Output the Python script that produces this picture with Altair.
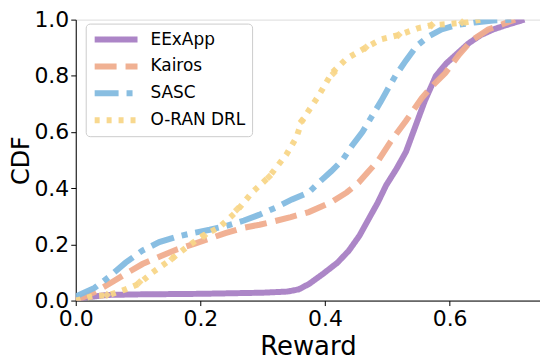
import altair as alt
import pandas as pd

series_names = ["EExApp", "Kairos", "SASC", "O-RAN DRL"]
colors = ["#a87fc4", "#f0ad8e", "#83bbe0", "#f8d688"]
dashes = [[1, 0], [22, 9], [24, 8, 6, 8], [5, 7]]

eexapp_x = [0.0, 0.02, 0.05, 0.1, 0.2, 0.3, 0.34, 0.358, 0.375, 0.398, 0.42, 0.438, 0.455, 0.47, 0.485, 0.498, 0.515, 0.53, 0.545, 0.56, 0.578, 0.595, 0.61, 0.63, 0.65, 0.67, 0.69, 0.705, 0.72]
eexapp_y = [0.0, 0.012, 0.02, 0.022, 0.024, 0.028, 0.032, 0.04, 0.06, 0.097, 0.135, 0.177, 0.23, 0.29, 0.35, 0.41, 0.47, 0.53, 0.62, 0.71, 0.8, 0.845, 0.875, 0.915, 0.945, 0.965, 0.98, 0.99, 1.0]

kairos_x = [0.0, 0.03, 0.054, 0.08, 0.107, 0.135, 0.16, 0.19, 0.214, 0.24, 0.267, 0.295, 0.32, 0.345, 0.374, 0.41, 0.435, 0.454, 0.47, 0.486, 0.505, 0.53, 0.555, 0.575, 0.593, 0.615, 0.635, 0.662, 0.69, 0.705]
kairos_y = [0.0, 0.03, 0.06, 0.095, 0.13, 0.157, 0.18, 0.202, 0.22, 0.24, 0.258, 0.27, 0.283, 0.297, 0.315, 0.35, 0.385, 0.42, 0.46, 0.5, 0.565, 0.64, 0.72, 0.77, 0.81, 0.875, 0.925, 0.965, 0.988, 1.0]

sasc_x = [0.0, 0.03, 0.054, 0.08, 0.107, 0.134, 0.16, 0.187, 0.215, 0.24, 0.27, 0.294, 0.32, 0.347, 0.374, 0.39, 0.41, 0.428, 0.443, 0.46, 0.475, 0.49, 0.5, 0.513, 0.53, 0.547, 0.566, 0.587, 0.61, 0.64, 0.67, 0.7]
sasc_y = [0.015, 0.045, 0.085, 0.135, 0.178, 0.208, 0.226, 0.24, 0.252, 0.265, 0.285, 0.305, 0.33, 0.36, 0.385, 0.42, 0.46, 0.5, 0.55, 0.6, 0.655, 0.71, 0.75, 0.8, 0.855, 0.906, 0.94, 0.965, 0.98, 0.99, 0.997, 1.0]

oran_x = [0.0, 0.027, 0.054, 0.08, 0.102, 0.123, 0.155, 0.178, 0.203, 0.23, 0.257, 0.283, 0.31, 0.338, 0.354, 0.363, 0.39, 0.411, 0.434, 0.465, 0.49, 0.518, 0.55, 0.571, 0.6, 0.625, 0.65]
oran_y = [0.0, 0.015, 0.02, 0.04, 0.06, 0.1, 0.15, 0.19, 0.23, 0.26, 0.315, 0.385, 0.44, 0.52, 0.58, 0.64, 0.73, 0.81, 0.86, 0.9, 0.93, 0.945, 0.97, 0.98, 0.985, 0.99, 1.0]

oran_marker_x = [0.05, 0.102, 0.155, 0.206, 0.259, 0.31, 0.363, 0.414, 0.465, 0.518, 0.571, 0.62]
oran_marker_y = [0.02, 0.065, 0.15, 0.23, 0.325, 0.44, 0.64, 0.81, 0.9, 0.945, 0.98, 0.99]

xs = [eexapp_x, kairos_x, sasc_x, oran_x]
ys = [eexapp_y, kairos_y, sasc_y, oran_y]

rows = []
for name, sx, sy in zip(series_names, xs, ys):
    for i, (a, b) in enumerate(zip(sx, sy)):
        rows.append({"series": name, "x": a, "y": b, "order": i})
df = pd.DataFrame(rows)

mk = pd.DataFrame({"x": oran_marker_x, "y": oran_marker_y, "series": "O-RAN DRL"})

xscale = alt.Scale(domain=[0, 0.745], nice=False, zero=False)
yscale = alt.Scale(domain=[0, 1], nice=False)

xaxis = alt.Axis(values=[0, 0.2, 0.4, 0.6], format=".1f", title="Reward",
                 labelFontSize=22, titleFontSize=26, titleFontWeight="normal",
                 labelFont="DejaVu Sans", titleFont="DejaVu Sans", labelColor="black",
                 titleColor="black", tickColor="black", domainColor="black",
                 tickSize=5, labelPadding=3, titlePadding=4, grid=False, labelFlush=False)
yaxis = alt.Axis(values=[0, 0.2, 0.4, 0.6, 0.8, 1.0], format=".1f", title="CDF",
                 labelFontSize=22, titleFontSize=24, titleFontWeight="normal",
                 labelFont="DejaVu Sans", titleFont="DejaVu Sans", labelColor="black",
                 titleColor="black", tickColor="black", domainColor="black",
                 tickSize=5, labelPadding=2, titlePadding=0, grid=False, labelFlush=False)

lines = alt.Chart(df).mark_line(strokeWidth=6, opacity=0.95, strokeCap="butt", clip=True).encode(
    x=alt.X("x:Q", scale=xscale, axis=xaxis),
    y=alt.Y("y:Q", scale=yscale, axis=yaxis),
    color=alt.Color("series:N", scale=alt.Scale(domain=series_names, range=colors),
                    legend=alt.Legend(title=None, orient="none", legendX=10, legendY=4,
                                      labelFontSize=17, labelFont="DejaVu Sans", labelColor="black",
                                      symbolType="stroke", symbolStrokeWidth=6, symbolSize=1849,
                                      clipHeight=20, rowPadding=7, padding=6, labelOffset=10,
                                      strokeColor="#cccccc", fillColor="white", cornerRadius=4)),
    strokeDash=alt.StrokeDash("series:N", scale=alt.Scale(domain=series_names, range=dashes), legend=None),
    order="order:Q",
)

markers = alt.Chart(mk).mark_point(shape="diamond", filled=True, size=70, opacity=0.9, color="#f8d688").encode(
    x=alt.X("x:Q", scale=xscale),
    y=alt.Y("y:Q", scale=yscale),
)

chart = alt.layer(lines, markers).properties(
    width=466, height=282,
    autosize=alt.AutoSizeParams(type="none"),
    padding={"left": 68, "top": 11, "right": 0, "bottom": 62},
).configure_view(stroke="black", strokeWidth=1.5).configure(background="white")

chart.save("out.html", embed_options={"renderer": "svg", "actions": False})
